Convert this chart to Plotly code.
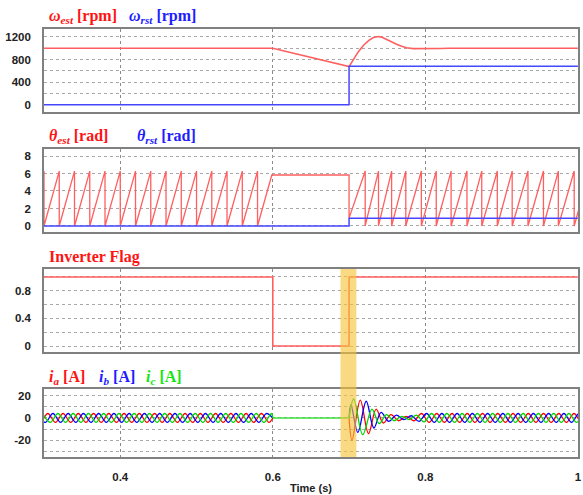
import numpy as np
import plotly.graph_objects as go

# ---------------- data ----------------
T_RANGE = [0.3, 1.0002]
TWO_PI = 6.28

# speed panel
omega_est_t = [0.30, 0.60, 0.700, 0.703, 0.7061, 0.712, 0.719, 0.726, 0.732, 0.7385, 0.744,
               0.7493, 0.756, 0.7623, 0.769, 0.7753, 0.784, 0.800, 0.820, 0.830, 1.00]
omega_est_v = [1000, 1000, 675, 740, 819, 935, 1053, 1140, 1189, 1208, 1190,
               1154, 1110, 1071, 1035, 1008, 992, 990, 995, 1000, 1000]
omega_rst_t = [0.30, 0.70, 0.70, 1.00]
omega_rst_v = [0, 0, 680, 680]

# angle panel: wrap instants of the estimated angle (sawtooth 0 -> 2*pi)
theta_wraps_1 = [0.30, 0.32, 0.34, 0.36, 0.38, 0.40, 0.42, 0.44, 0.46, 0.48,
                 0.50, 0.52, 0.54, 0.56, 0.58]
theta_hold_t = [0.5987, 0.70]
theta_hold_v = [5.83, 5.83]
theta_restart_v = 0.9
theta_wraps_2 = [0.7212, 0.7386, 0.7558, 0.7744, 0.7948, 0.8143, 0.8338, 0.8546,
                 0.8740, 0.8944, 0.9139, 0.9346, 0.9549, 0.9744, 0.9952, 1.0152]
theta_rst_t = [0.30, 0.70, 0.70, 1.00]
theta_rst_v = [0, 0, 0.88, 0.88]

# inverter flag
flag_t = [0.30, 0.60, 0.60, 0.70, 0.70, 1.00]
flag_v = [1, 1, 0, 0, 1, 1]

# phase currents: steady state (period, amplitude) and transient extrema
CUR_PERIOD = 0.02
CUR_AMP = 4
seg1_first_peak = {"a": 0.285, "b": 0.2917, "c": 0.2983}
seg3_first_peak = {"a": 0.795, "b": 0.8017, "c": 0.8083}
trans_t = {
    "a": [0.700, 0.7039, 0.7147, 0.7255, 0.7355, 0.745, 0.755, 0.765, 0.775, 0.785],
    "b": [0.700, 0.7025, 0.7115, 0.7225, 0.7325, 0.742, 0.752, 0.762, 0.772, 0.7817, 0.7917],
    "c": [0.700, 0.7061, 0.718, 0.730, 0.7395, 0.749, 0.759, 0.769, 0.779, 0.7883, 0.7983],
}
trans_v = {
    "a": [0, -20, 16, -14, 8, -4.5, 3, -2.5, 1.5, -2.5],
    "b": [0, 12, -13, 15, -9, 5, -3, 2.5, -1.5, 2, -3],
    "c": [0, 17, -15, 8, -5, 3, -2.5, 1.5, -1.5, 2.5, -3.5],
}
off_t = [0.6, 0.7]
off_v = [0, 0]
cur_colors = {"a": "rgb(255,0,0)", "b": "rgb(0,0,255)", "c": "rgb(0,215,0)"}

# ---------------- build figure ----------------
RED = "rgb(255,95,95)"
BLUE = "rgb(70,70,255)"

fig = go.Figure()

fig.add_trace(go.Scatter(x=omega_est_t, y=omega_est_v, mode="lines",
                         line=dict(color=RED, width=1.6), xaxis="x", yaxis="y"))
fig.add_trace(go.Scatter(x=omega_rst_t, y=omega_rst_v, mode="lines",
                         line=dict(color=BLUE, width=1.5), xaxis="x", yaxis="y"))

th_t, th_v = [], []
for tw in theta_wraps_1:
    th_t += [tw, tw]
    th_v += [TWO_PI, 0]
th_t += theta_hold_t + [0.70]
th_v += theta_hold_v + [theta_restart_v]
for tw in theta_wraps_2:
    th_t += [tw, tw]
    th_v += [TWO_PI, 0]
fig.add_trace(go.Scatter(x=th_t, y=th_v, mode="lines",
                         line=dict(color=RED, width=1.3), xaxis="x2", yaxis="y2"))
fig.add_trace(go.Scatter(x=theta_rst_t, y=theta_rst_v, mode="lines",
                         line=dict(color=BLUE, width=1.5), xaxis="x2", yaxis="y2"))

fig.add_trace(go.Scatter(x=flag_t, y=flag_v, mode="lines",
                         line=dict(color=RED, width=1.6), xaxis="x3", yaxis="y3"))


def steady(first, stop):
    t = np.arange(first, stop, CUR_PERIOD / 2)
    v = [CUR_AMP if k % 2 == 0 else -CUR_AMP for k in range(len(t))]
    return list(t), v


for ph in ["a", "b", "c"]:
    t1, v1 = steady(seg1_first_peak[ph], 0.6)
    t3, v3 = steady(seg3_first_peak[ph], 1.02)
    fig.add_trace(go.Scatter(x=t1 + [0.6], y=v1 + [0], mode="lines",
                             line=dict(color=cur_colors[ph], width=1.3, shape="spline"),
                             xaxis="x4", yaxis="y4"))
    fig.add_trace(go.Scatter(x=trans_t[ph] + t3, y=trans_v[ph] + v3, mode="lines",
                             line=dict(color=cur_colors[ph], width=1.3, shape="spline"),
                             xaxis="x4", yaxis="y4"))
# while the inverter is off all phases sit at zero; green is drawn on top
fig.add_trace(go.Scatter(x=off_t, y=off_v, mode="lines",
                         line=dict(color="rgb(60,225,60)", width=1.3),
                         xaxis="x4", yaxis="y4"))

# ---------------- layout ----------------
FRAME = "#808080"
TICKFONT = dict(family="Liberation Sans", size=11.5, color="#222", weight="bold")


def xax(anchor, labels):
    return dict(range=T_RANGE, anchor=anchor, domain=[0, 1],
                tickvals=[0.4, 0.6, 0.8, 1.0], ticktext=["0.4", "0.6", "0.8", "1"],
                showticklabels=labels, ticks="", ticklabelstandoff=8,
                ticklabeloverflow="allow",
                showgrid=True, griddash="dot", gridcolor="#8a8a8a", gridwidth=1,
                showline=True, mirror=True, linecolor=FRAME, linewidth=1.6,
                zeroline=False, tickfont=TICKFONT)


def yax(dom, rng, vals, texts):
    return dict(domain=dom, range=rng, tickvals=vals, ticktext=texts, ticks="",
                ticklabelstandoff=9, showgrid=True, griddash="dot",
                gridcolor="#a8a8a8", gridwidth=1, showline=True, mirror=True,
                linecolor=FRAME, linewidth=1.6, zeroline=False, tickfont=TICKFONT)


fig.update_layout(
    width=583, height=495,
    margin=dict(l=44, r=1, t=29, b=38),
    paper_bgcolor="white", plot_bgcolor="white",
    showlegend=False,
    xaxis=xax("y", False), xaxis2=xax("y2", False),
    xaxis3=xax("y3", False), xaxis4=xax("y4", True),
    yaxis=yax([0.806, 1.0], [-130, 1340], [0, 200, 400, 600, 800, 1000, 1200],
              ["0", "", "400", "", "800", "", "1200"]),
    yaxis2=yax([0.5257, 0.7196], [-0.69, 8.8], [0, 2, 4, 6, 8],
               ["0", "2", "4", "6", "8"]),
    yaxis3=yax([0.2453, 0.4393], [-0.087, 1.116], [0, 0.2, 0.4, 0.6, 0.8, 1.0],
               ["0", "", "0.4", "", "0.8", ""]),
    yaxis4=yax([0, 0.1589], [-35, 26], [-30, -20, -10, 0, 10, 20],
               ["", "-20", "", "0", "", "20"]),
)

fig.add_shape(type="rect", xref="x4", yref="paper", x0=0.6888, x1=0.7096,
              y0=0.0, y1=0.4393, fillcolor="rgba(245,195,55,0.62)",
              line=dict(width=0), layer="above")

SERIF = "Liberation Serif"


def title(txt, x, y, color):
    fig.add_annotation(text=txt, x=x, y=y, xref="paper", yref="paper",
                       xanchor="left", yanchor="middle", showarrow=False,
                       font=dict(family=SERIF, size=16, color=color))


TRED = "rgb(255,20,20)"
TBLUE = "rgb(30,30,255)"
TGREEN = "rgb(20,230,20)"
title("<b><i>ω</i><sub><i>est</i></sub> [rpm]</b>", 0.006, 1.029, TRED)
title("<b><i>ω</i><sub><i>rst</i></sub> [rpm]</b>", 0.156, 1.029, TBLUE)
title("<b><i>θ</i><sub><i>est</i></sub> [rad]</b>", 0.006, 0.749, TRED)
title("<b><i>θ</i><sub><i>rst</i></sub> [rad]</b>", 0.171, 0.749, TBLUE)
title("<b>Inverter Flag</b>", 0.006, 0.467, TRED)
title("<b><i>i</i><sub><i>a</i></sub> [A]</b>", 0.006, 0.186, TRED)
title("<b><i>i</i><sub><i>b</i></sub> [A]</b>", 0.0985, 0.186, TBLUE)
title("<b><i>i</i><sub><i>c</i></sub> [A]</b>", 0.188, 0.186, TGREEN)

fig.add_annotation(text="<b>Time (s)</b>", x=0.5, y=-0.072, xref="paper", yref="paper",
                   xanchor="center", yanchor="middle", showarrow=False,
                   font=dict(family="Liberation Sans", size=11, color="#222"))

fig.write_html("out.html", config={"displayModeBar": False},
               post_script="document.body.style.margin='0px';")
